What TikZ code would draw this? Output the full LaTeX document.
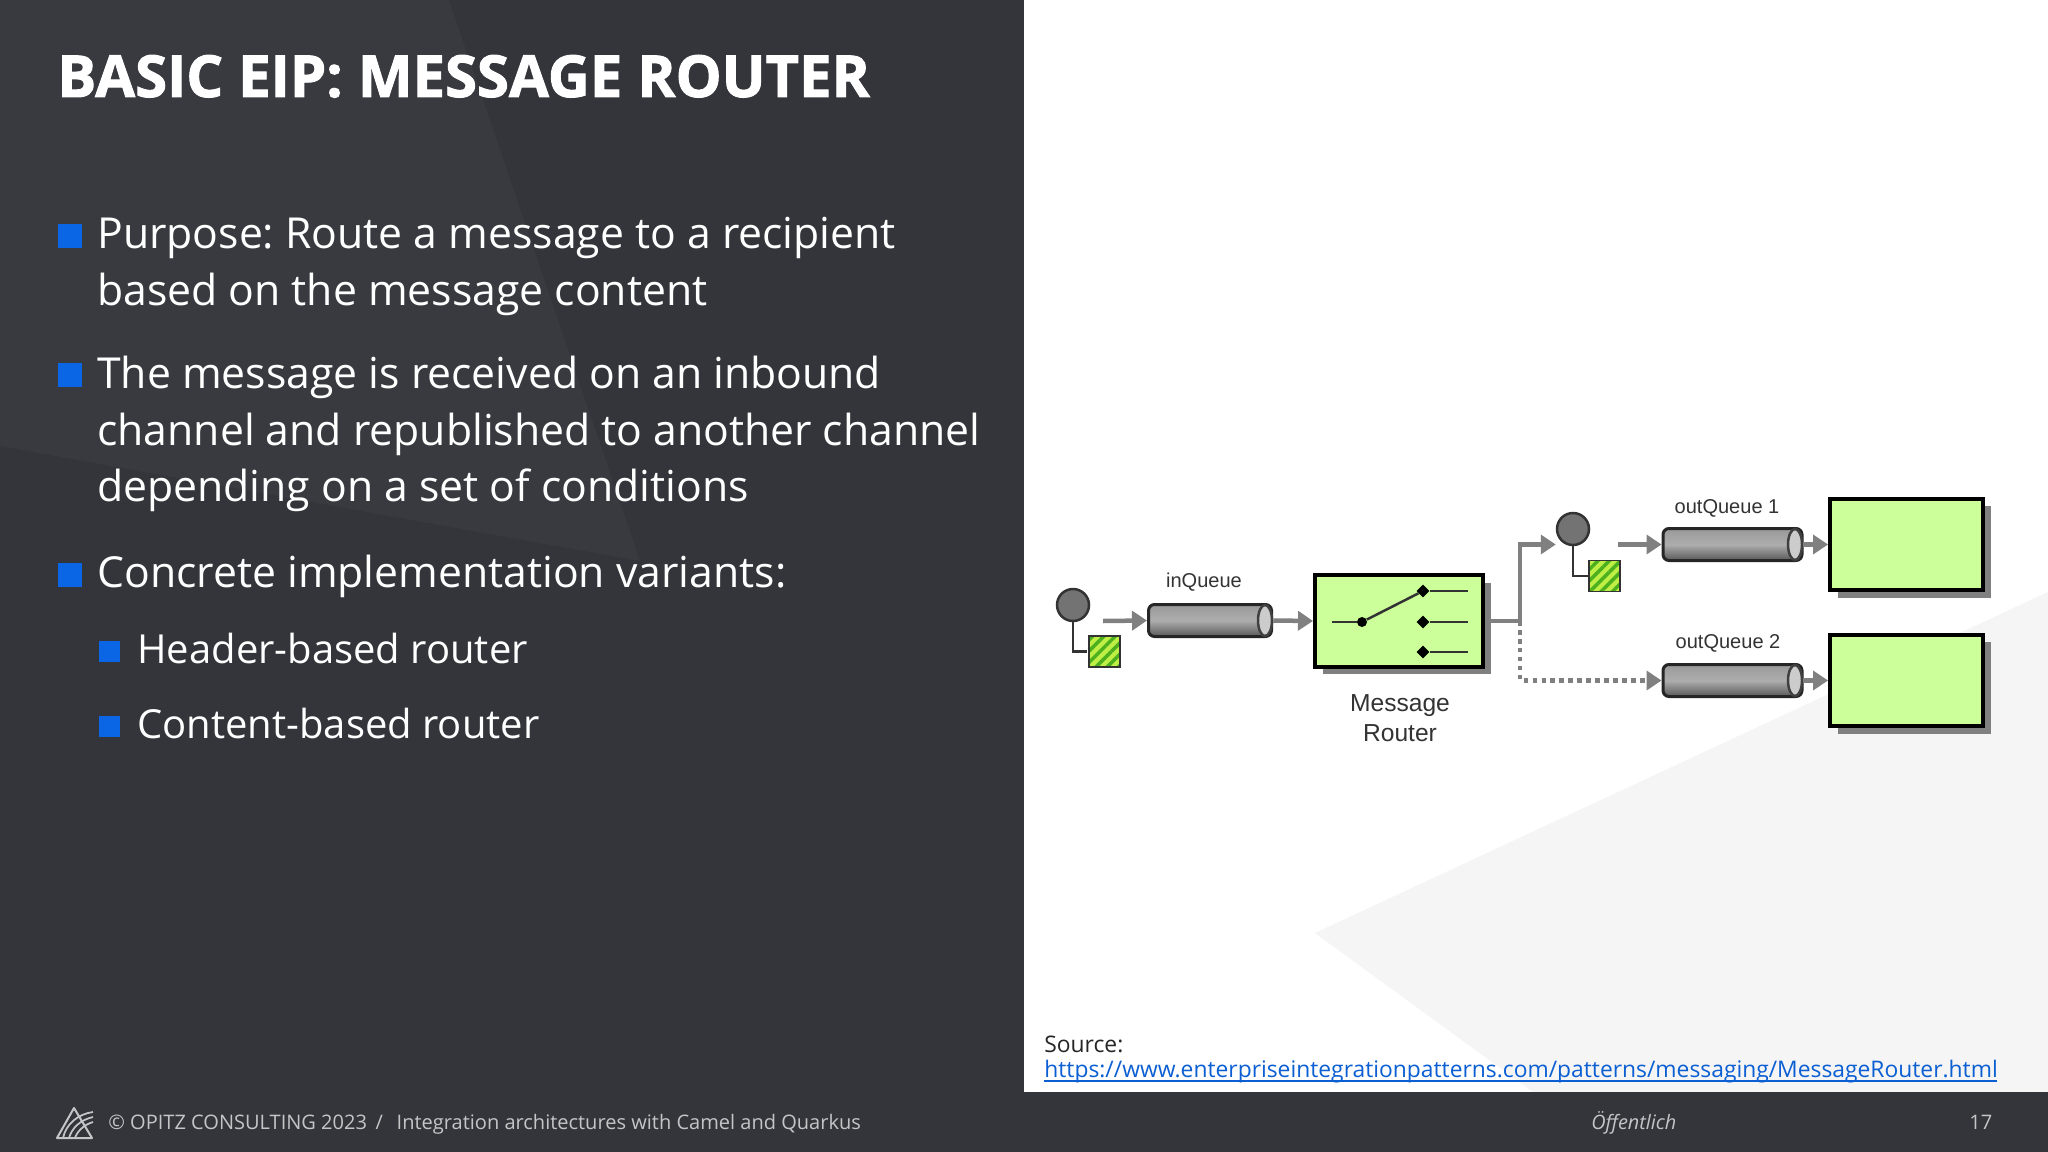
\documentclass[tikz,border=0pt]{standalone}
\usepackage{fontspec}
\setmainfont{Open Sans}
\newfontfamily\titlefont{Open Sans}[BoldFeatures={FakeBold=1.6}]
\newfontfamily\diagramfont{Liberation Sans}
\usetikzlibrary{arrows.meta}
\usetikzlibrary{patterns.meta}
\usetikzlibrary{shapes.geometric}
\usetikzlibrary{shadows}
\definecolor{slate}{HTML}{33353A}
\definecolor{slatelight}{HTML}{383A3F}
\definecolor{facet}{HTML}{F5F5F5}
\definecolor{bulletblue}{HTML}{0A66E4}
\definecolor{linkblue}{HTML}{0B5FD3}
\definecolor{footgray}{HTML}{C4C5C7}
\definecolor{wire}{HTML}{808080}
\definecolor{boxgreen}{HTML}{CCFF99}
\definecolor{msggreen}{HTML}{BFEF45}
\definecolor{msgstripe}{HTML}{4CAF1E}
\frenchspacing
\begin{document}
\begin{tikzpicture}[x=0.02cm,y=-0.02cm]

\tikzset{body/.style={anchor=base west,inner sep=0pt,text=white,align=left,font=\fontsize{24.3}{32.45}\selectfont}}
\tikzset{subbody/.style={body,font=\fontsize{22.75}{30}\selectfont}}
\tikzset{foot/.style={anchor=base west,inner sep=0pt,text=footgray,font=\fontsize{11.4}{15}\selectfont}}
\tikzset{bullet/.style={rectangle,fill=bulletblue,inner sep=0pt,minimum width=0.48cm,minimum height=0.48cm}}
\tikzset{subbullet/.style={bullet,minimum width=0.42cm,minimum height=0.42cm}}
\tikzset{qlabel/.style={inner sep=0pt,text=black!80,font=\diagramfont\fontsize{11.4}{14}\selectfont}}
\tikzset{wireline/.style={draw=wire,line width=0.09cm}}
\tikzset{arrow/.style={wireline,-{Triangle[length=0.3cm,width=0.38cm]}}}
\tikzset{box/.style={rectangle,draw=black,line width=0.08cm,fill=boxgreen,inner sep=0pt,drop shadow={shadow xshift=0.15cm,shadow yshift=-0.15cm,fill=wire,opacity=1}}}
\tikzset{queue/.style={rectangle,rounded corners=0.12cm,draw=black!85,line width=0.06cm,top color=black!40,bottom color=black!65,middle color=black!32,inner sep=0pt,minimum width=2.46cm,minimum height=0.64cm}}
\tikzset{queueend/.style={ellipse,draw=black!75,line width=0.05cm,fill=black!20,inner sep=0pt,minimum width=0.28cm,minimum height=0.62cm}}
\tikzset{person/.style={circle,draw=black!80,line width=0.05cm,fill=black!55,inner sep=0pt,minimum size=0.64cm}}
\tikzset{message/.style={rectangle,draw=black!80,line width=0.03cm,inner sep=0pt,minimum size=0.62cm,pattern={Lines[angle=45,distance=0.16cm,line width=0.07cm]},pattern color=msgstripe,preaction={fill=msggreen}}}
\tikzset{pole/.style={draw=black!80,line width=0.045cm}}
\tikzset{link/.style={draw=black!80,line width=0.05cm}}
\tikzset{contact/.style={diamond,fill=black,inner sep=0pt,minimum size=0.26cm}}

\fill[slate] (0,0) rectangle (1024,1152);
\fill[slatelight] (0,0) -- (449,0) -- (640,561) -- (0,446) -- cycle;
\fill[white] (1024,0) rectangle (2048,1092);
\fill[facet] (2048,592) -- (1315,933) -- (1533,1092) -- (2048,1092) -- cycle;
\fill[slate] (1024,1092) rectangle (2048,1152);

\node[anchor=base west,inner sep=0pt,text=white,font=\titlefont\fontsize{33}{40}\selectfont\bfseries] (title) at (57,97) {BASIC EIP: MESSAGE ROUTER};

\node[bullet] (b1) at (70,236) {};
\node[body] (t1) at (97,249) {Purpose: Route a message to a recipient};
\node[body] (t1b) at (97,305) {based on the message content};
\node[bullet] (b2) at (70,375) {};
\node[body] (t2) at (97,388) {The message is received on an inbound};
\node[body] (t2b) at (97,445) {channel and republished to another channel};
\node[body] (t2c) at (97,501.5) {depending on a set of conditions};
\node[bullet] (b3) at (70,574.5) {};
\node[body] (t3) at (97,587) {Concrete implementation variants:};
\node[subbullet] (b4) at (109.5,651.5) {};
\node[subbody] (t4) at (137,663.5) {Header-based router};
\node[subbullet] (b5) at (109.5,726.5) {};
\node[subbody] (t5) at (137,738) {Content-based router};

\draw[footgray,line width=0.04cm,line join=round] (74,1108) -- (57,1138) -- (92,1138) -- cycle;
\draw[footgray,line width=0.035cm] (63,1138) .. controls (66,1124) and (78,1114) .. (93,1112);
\draw[footgray,line width=0.035cm] (69,1138) .. controls (72,1128) and (80,1120) .. (93,1117);
\draw[footgray,line width=0.035cm] (75,1138) .. controls (77,1132) and (83,1125) .. (93,1122);

\node[foot] (foot) at (108,1129.5) {© OPITZ CONSULTING 2023 \,/\, \ Integration architectures with Camel and Quarkus};
\node[foot,font=\fontsize{11.3}{15}\selectfont\itshape] (public) at (1591,1129.5) {Öffentlich};
\node[foot] (page) at (1969,1129.5) {17};

\node[anchor=base west,inner sep=0pt,text=black!85,font=\fontsize{13}{16}\selectfont] (source) at (1044,1052) {Source:};
\node[anchor=base west,inner sep=0pt,text=linkblue,font=\fontsize{13}{16}\selectfont] (url) at (1044,1077) {https://www.enterpriseintegrationpatterns.com/patterns/messaging/MessageRouter.html};
\draw[linkblue,line width=0.04cm] (url.base west) ++(0,4) -- ++(953,0);

\node[person] (p1) at (1073,605) {};
\node[message] (m1) at (1104.5,651.5) {};
\coordinate (s1) at (1103,621);
\node[queue] (q1) at (1210,620.5) {};
\node[queueend] (c1) at (1265,620.5) {};
\node[qlabel] (lq1) at (1204,582) {inQueue};
\node[box,minimum width=3.36cm,minimum height=1.84cm] (router) at (1399,621) {};
\node[qlabel,align=center,font=\diagramfont\fontsize{14}{17}\selectfont] (lrouter) at (1400,718) {Message\\Router};

\coordinate (a0) at (1332,622);
\node[circle,fill=black,inner sep=0pt,minimum size=0.2cm] (pivot) at (1362,622) {};
\node[contact] (d1) at (1423,591) {};
\node[contact] (d2) at (1423,622) {};
\node[contact] (d3) at (1423,652) {};
\coordinate (e1) at (1468,591);
\coordinate (e2) at (1468,622);
\coordinate (e3) at (1468,652);

\coordinate (fork) at (1520,621);
\node[person] (p2) at (1573,529) {};
\node[message] (m2) at (1604.5,576) {};
\coordinate (s2) at (1618,544.5);
\node[queue,minimum width=2.78cm] (q2) at (1732.5,544.5) {};
\node[queueend] (c2) at (1795,544.5) {};
\node[qlabel] (lq2) at (1727,508) {outQueue 1};
\node[box,minimum width=3.06cm,minimum height=1.84cm] (out1) at (1906.5,544.5) {};

\node[queue,minimum width=2.78cm] (q3) at (1732.5,680.5) {};
\node[queueend] (c3) at (1795,680.5) {};
\node[qlabel] (lq3) at (1728,643) {outQueue 2};
\node[box,minimum width=3.06cm,minimum height=1.84cm] (out2) at (1906.5,680.5) {};

\draw[link] (a0) -- (pivot);
\draw[link] (pivot) -- (d1);
\draw[link] (d1) -- (e1);
\draw[link] (d2) -- (e2);
\draw[link] (d3) -- (e3);

\path[pole] (p1.south) |- (m1.west);
\path[pole] (p2.south) |- (m2.west);

\draw[arrow] (s1) -- (q1.west);
\draw[arrow] (c1.east) -- (router.west);
\draw[wireline] (router.east) -- (fork);
\draw[arrow] (fork) |- (p2.west |- s2);
\draw[arrow,dash pattern=on 0.09cm off 0.09cm] (fork) |- (q3.west);
\draw[arrow] (s2) -- (q2.west);
\draw[arrow] (c2.east) -- (out1.west);
\draw[arrow] (c3.east) -- (out2.west);

\useasboundingbox (0,0) rectangle (2048,1152);

\end{tikzpicture}
\end{document}
